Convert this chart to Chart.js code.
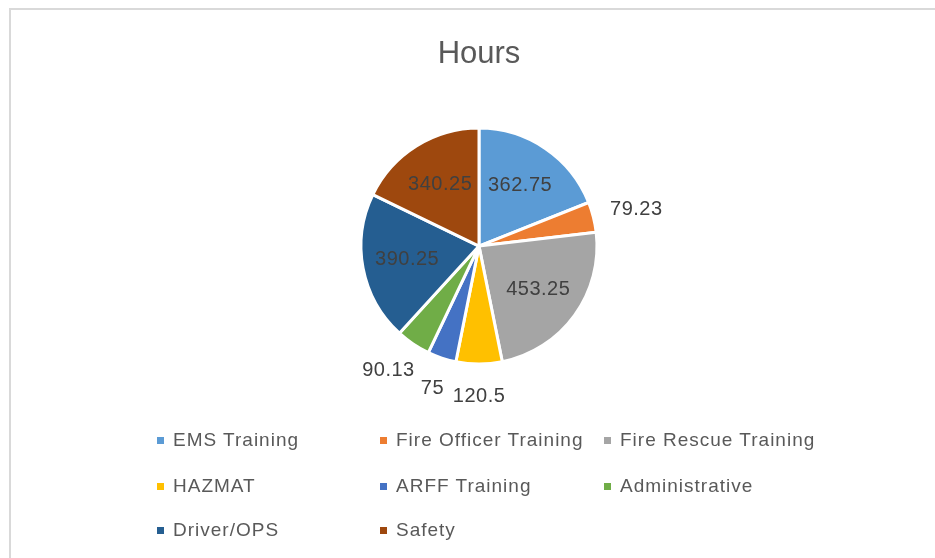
<!DOCTYPE html>
<html>
<head>
<meta charset="utf-8">
<script src="https://cdn.jsdelivr.net/npm/chart.js@4/dist/chart.umd.min.js"></script>
<style>
  html, body { margin: 0; padding: 0; background: #fff; overflow: hidden; }
  #wrap { position: relative; width: 935px; height: 558px; }
  #frame { position: absolute; left: 9px; top: 8px; width: 1000px; height: 1000px;
           border-left: 2px solid #d9d9d9; border-top: 2px solid #d9d9d9; }
  canvas { position: absolute; left: 0; top: 0; }
  .item { position: absolute; display: flex; align-items: center; transform: translateY(-50%);
          font: 19px "Liberation Sans", Arial, sans-serif; letter-spacing: 1px; color: #595959;
          white-space: nowrap; }
  .item i { display: inline-block; width: 7px; height: 7px; margin-right: 9px; }
</style>
</head>
<body>
<div id="wrap">
  <div id="frame"></div>
  <canvas id="chart" width="935" height="558"></canvas>
  <div id="legend"></div>
</div>
<script>
// data
var categories = ['EMS Training', 'Fire Officer Training', 'Fire Rescue Training', 'HAZMAT',
                  'ARFF Training', 'Administrative', 'Driver/OPS', 'Safety'];
var hours = [362.75, 79.23, 453.25, 120.5, 75, 90.13, 390.25, 340.25];
var colors = ['#5B9BD5', '#ED7D31', '#A5A5A5', '#FFC000', '#4472C4', '#70AD47', '#255E91', '#9E480E'];

// value labels, inside for big slices, outside for small ones
var sliceLabels = {
    id: 'sliceLabels',
    afterDatasetsDraw: function (chart) {
        var ctx = chart.ctx;
        var meta = chart.getDatasetMeta(0);
        var total = hours.reduce(function (a, b) { return a + b; }, 0);
        ctx.save();
        ctx.font = '20px "Liberation Sans", Arial, sans-serif';
        ctx.letterSpacing = '0.5px';
        ctx.fillStyle = '#404040';
        ctx.textAlign = 'center';
        ctx.textBaseline = 'middle';
        meta.data.forEach(function (arc, i) {
            var p = arc.getProps(['x', 'y', 'startAngle', 'endAngle', 'outerRadius'], true);
            var a = (p.startAngle + p.endAngle) / 2;
            var cx = Math.cos(a), cy = Math.sin(a);
            var txt = String(hours[i]);
            var px, py;
            if (hours[i] / total > 0.1) {
                px = p.x + cx * p.outerRadius * 0.62;
                py = p.y + cy * p.outerRadius * 0.62;
            } else {
                var w = ctx.measureText(txt).width / 2;
                var d = p.outerRadius + 18;
                px = p.x + cx * d + cx * w;
                py = p.y + cy * d + cy * 14;
            }
            ctx.fillText(txt, px, py);
        });
        ctx.restore();
    }
};

var chart = new Chart(document.getElementById('chart'), {
    type: 'pie',
    data: {
        labels: categories,
        datasets: [{
            data: hours,
            backgroundColor: colors,
            borderColor: '#ffffff',
            borderWidth: 3
        }]
    },
    options: {
        responsive: false,
        animation: false,
        radius: 118,
        layout: { padding: { left: 362, right: 339, top: 10, bottom: 195 } },
        plugins: {
            legend: { display: false },
            tooltip: { enabled: false },
            title: {
                display: true,
                text: 'Hours',
                color: '#595959',
                font: { family: '"Liberation Sans", Arial, sans-serif', size: 31, weight: 'normal', lineHeight: 1.2 },
                padding: { top: 26, bottom: 56 }
            }
        }
    },
    plugins: [sliceLabels]
});

// legend laid out in a 3 column grid like the original
var legend = document.getElementById('legend');
var colX = [157, 380, 604];
var rowY = [440, 486, 530];
categories.forEach(function (name, i) {
    var el = document.createElement('div');
    el.className = 'item';
    el.style.left = colX[i % 3] + 'px';
    el.style.top = rowY[Math.floor(i / 3)] + 'px';
    var sw = document.createElement('i');
    sw.style.background = colors[i];
    el.appendChild(sw);
    el.appendChild(document.createTextNode(name));
    legend.appendChild(el);
});
</script>
</body>
</html>
